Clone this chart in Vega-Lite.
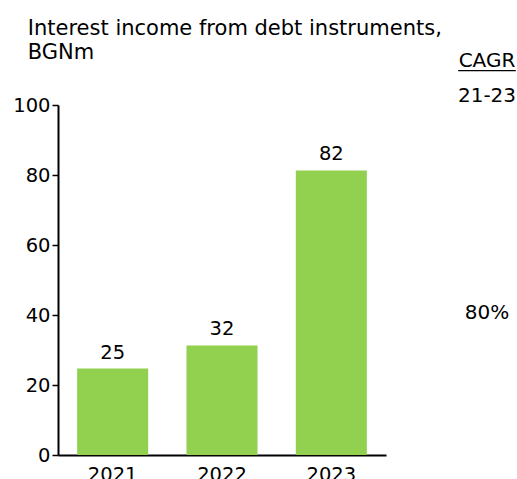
{
  "$schema": "https://vega.github.io/schema/vega-lite/v6.json",
  "padding": {"left": 12, "top": 18, "right": 0, "bottom": 0},
  "background": "white",
  "config": {
    "font": "DejaVu Sans",
    "view": {"stroke": null},
    "axis": {"labelColor": "black", "labelFont": "DejaVu Sans", "domainColor": "black", "tickColor": "black"}
  },
  "bounds": "flush",
  "spacing": 71,
  "datasets": {
    "income": [
      {"year": "2021", "value": 24.7, "label": "25"},
      {"year": "2022", "value": 31.3, "label": "32"},
      {"year": "2023", "value": 81.3, "label": "82"}
    ],
    "cagr": [
      {"header": "CAGR", "period": "21-23", "rate": "80%"}
    ]
  },
  "hconcat": [
    {
      "width": 328,
      "height": 350,
      "data": {"name": "income"},
      "title": {
        "text": ["Interest income from debt instruments,", "BGNm"],
        "anchor": "start",
        "frame": "bounds",
        "dx": 15,
        "offset": 32,
        "fontSize": 21,
        "fontWeight": "normal",
        "lineHeight": 24,
        "font": "DejaVu Sans",
        "color": "black"
      },
      "encoding": {
        "x": {
          "field": "year",
          "type": "nominal",
          "scale": {"paddingInner": 0.35},
          "axis": {"title": null, "labelAngle": 0, "labelFontSize": 19.5, "ticks": false, "domainWidth": 2, "labelPadding": 10}
        },
        "y": {
          "field": "value",
          "type": "quantitative",
          "scale": {"domain": [0, 100]},
          "axis": {"title": null, "values": [0, 20, 40, 60, 80, 100], "grid": false, "labelFontSize": 19.5, "domainWidth": 2, "tickWidth": 1.5, "tickSize": 6, "labelPadding": 2}
        }
      },
      "layer": [
        {"mark": {"type": "bar", "color": "#92D050"}},
        {"mark": {"type": "text", "fontSize": 19.5, "dy": -10, "baseline": "alphabetic", "color": "black"}, "encoding": {"text": {"field": "label"}}}
      ]
    },
    {
      "width": 60,
      "height": 350,
      "data": {"name": "cagr"},
      "encoding": {
        "x": {"datum": 0.5, "type": "quantitative", "scale": {"domain": [0, 1]}, "axis": null}
      },
      "layer": [
        {"mark": {"type": "text", "fontSize": 20, "baseline": "alphabetic", "color": "black"}, "encoding": {"y": {"datum": 111, "type": "quantitative", "scale": {"domain": [0, 100]}, "axis": null}, "text": {"field": "header"}}},
        {"mark": {"type": "text", "fontSize": 20, "baseline": "alphabetic", "color": "black"}, "encoding": {"y": {"datum": 100.8, "type": "quantitative"}, "text": {"field": "period"}}},
        {"mark": {"type": "text", "fontSize": 20, "baseline": "middle", "color": "black"}, "encoding": {"y": {"datum": 40.5, "type": "quantitative"}, "text": {"field": "rate"}}},
        {"mark": {"type": "rule", "color": "black", "strokeWidth": 1.2}, "encoding": {"x": {"datum": 0.02, "type": "quantitative"}, "x2": {"datum": 0.98}, "y": {"datum": 109.8, "type": "quantitative"}}}
      ]
    }
  ]
}
